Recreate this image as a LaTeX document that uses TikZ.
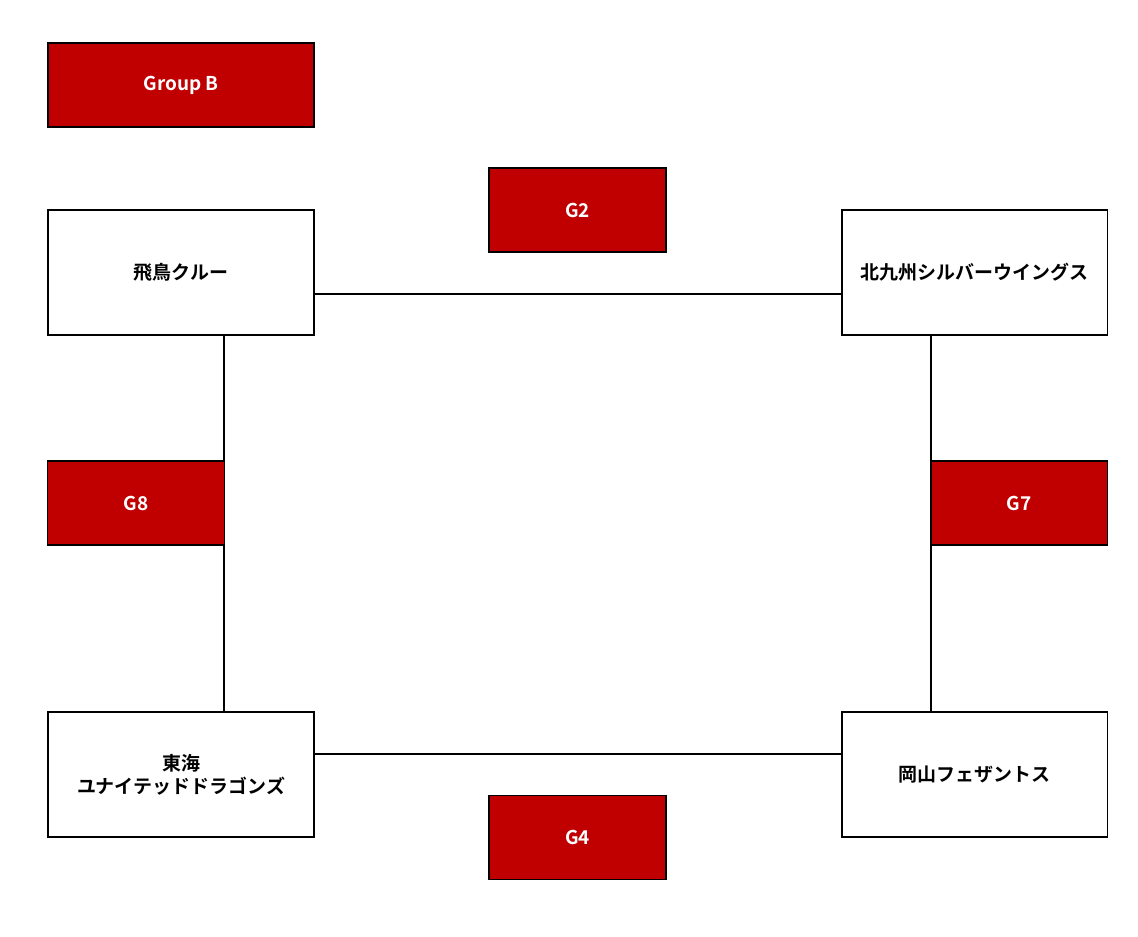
\documentclass[tikz,border=0pt]{standalone}
\usepackage{fontspec}
\setmainfont{Noto Sans CJK JP}[BoldFont={* Bold}]
\definecolor{groupred}{HTML}{C00000}
\begin{document}
\begin{tikzpicture}[x=0.02cm,y=-0.02cm,line width=1.1pt,
  team/.style={draw, rectangle, align=center, fill=white, minimum width=5.32cm, minimum height=2.5cm, font=\fontsize{10.8}{13}\selectfont\bfseries},
  game/.style={draw, rectangle, fill=groupred, text=white, minimum width=3.54cm, minimum height=1.68cm, font=\fontsize{10.8}{13}\selectfont\bfseries}]
\useasboundingbox (0,0) rectangle (1138,936);
\node[game, minimum width=5.32cm] (grp) at (181,85) {Group B};
\node[team] (asuka) at (181,272.5) {飛鳥クルー};
\node[team] (kita) at (974.5,272.5) {北九州シルバーウイングス};
\node[team] (tokai) at (181,774.5) {東海\\ユナイテッドドラゴンズ};
\node[team] (okayama) at (974.5,774.5) {岡山フェザントス};
\draw ([yshift=-0.43cm]asuka.east) -- ([yshift=-0.43cm]kita.west);
\draw ([yshift=0.41cm]tokai.east) -- ([yshift=0.41cm]okayama.west);
\draw ([xshift=0.86cm]asuka.south) -- ([xshift=0.86cm]tokai.north);
\draw ([xshift=-0.87cm]kita.south) -- ([xshift=-0.87cm]okayama.north);
\node[game] (g2) at (577.5,210) {G2};
\node[game] (g4) at (577.5,837.5) {G4};
\node[game] (g8) at (136,503) {G8};
\node[game] (g7) at (1019,503) {G7};
\end{tikzpicture}
\end{document}
